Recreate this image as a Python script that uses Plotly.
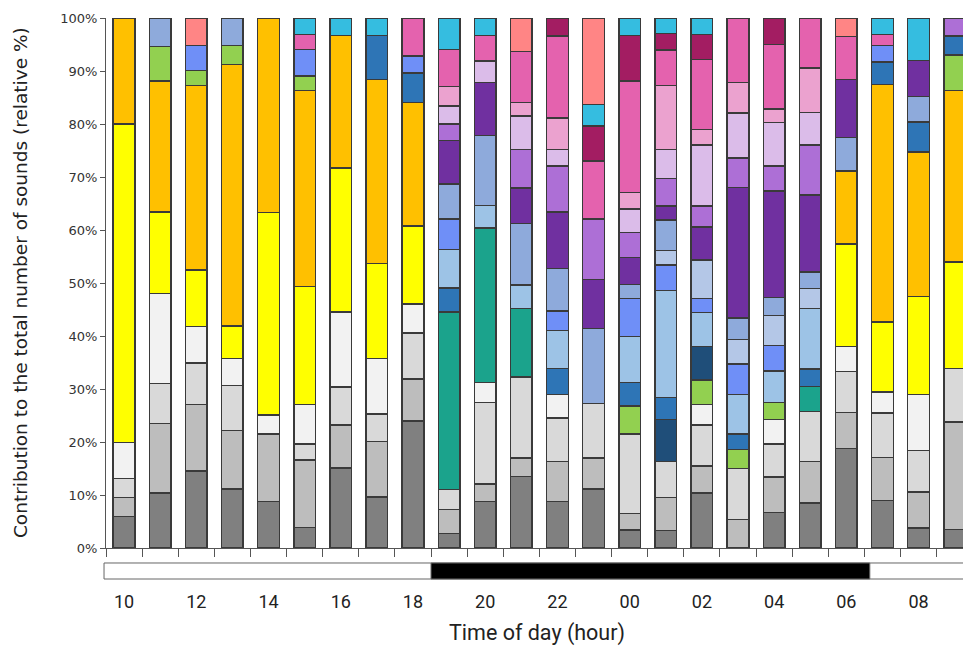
import plotly.graph_objects as go

hours = ["10", "11", "12", "13", "14", "15", "16", "17", "18", "19", "20", "21",
         "22", "23", "00", "01", "02", "03", "04", "05", "06", "07", "08", "09"]
label_hours = hours[::2]

# Sunset / sunrise positions on the hour axis (bar index units)
dark_start = 8.5
dark_end = 20.65

# Relative contribution (%) per sound category, bottom to top of each stack
dark_grey = [5.9, 10.4, 14.5, 11.1, 8.8, 3.9, 15.1, 9.6, 24.0, 2.7, 8.8, 13.5,
             8.8, 11.1, 3.4, 3.3, 10.4, 0, 6.7, 8.5, 18.8, 9.0, 3.8, 3.5]
mid_grey = [3.6, 13.1, 12.6, 11.1, 12.7, 12.7, 8.1, 10.5, 7.9, 4.6, 3.3, 3.5,
            7.5, 5.9, 3.1, 6.2, 5.1, 5.4, 6.7, 7.8, 6.8, 8.1, 6.8, 20.3]
light_grey = [3.6, 7.5, 7.8, 8.5, 0, 3.0, 7.2, 5.2, 8.7, 3.7, 15.4, 15.3,
              8.2, 10.3, 15.0, 6.8, 7.7, 9.6, 6.2, 9.5, 7.7, 8.4, 7.8, 10.1]
white = [6.8, 17.0, 6.9, 5.1, 3.6, 7.5, 14.1, 10.5, 5.4, 0, 3.7, 0,
         4.5, 0, 0, 0, 3.9, 0, 4.6, 0, 4.7, 3.9, 10.6, 0]
yellow = [60.1, 15.4, 10.7, 6.1, 38.2, 22.2, 27.2, 17.9, 14.8, 0, 0, 0,
          0, 0, 0, 0, 0, 0, 0, 0, 19.4, 13.2, 18.5, 20.1]
orange = [20.0, 24.7, 34.8, 49.3, 36.7, 37.0, 25.0, 34.7, 23.3, 0, 0, 0,
          0, 0, 0, 0, 0, 0, 0, 0, 13.7, 44.9, 27.2, 32.3]
teal = [0, 0, 0, 0, 0, 0, 0, 0, 0, 33.5, 29.2, 12.9,
        0, 0, 0, 0, 0, 0, 0, 4.7, 0, 0, 0, 0]
green = [0, 6.5, 2.8, 3.6, 0, 2.8, 0, 0, 0, 0, 0, 0,
         0, 0, 5.3, 0, 4.6, 3.6, 3.3, 0, 0, 0, 0, 6.7]
navy = [0, 0, 0, 0, 0, 0, 0, 0, 0, 0, 0, 0,
        0, 0, 0, 7.9, 6.3, 0, 0, 0, 0, 0, 0, 0]
mid_blue = [0, 0, 0, 0, 0, 0, 0, 8.3, 5.5, 4.6, 0, 0,
            4.9, 0, 4.4, 4.2, 0, 2.9, 0, 3.3, 0, 4.2, 5.7, 3.6]
light_blue = [0, 0, 0, 0, 0, 0, 0, 0, 0, 7.2, 4.2, 4.4,
              7.1, 0, 8.7, 20.2, 6.4, 7.5, 5.9, 11.4, 0, 0, 0, 0]
blue = [0, 0, 4.7, 0, 0, 5.0, 0, 0, 3.2, 5.8, 0, 0,
        3.7, 0, 7.2, 4.8, 2.7, 5.7, 4.8, 0, 0, 3.1, 0, 0]
pale_blue = [0, 0, 0, 0, 0, 0, 0, 0, 0, 0, 0, 0,
             0, 0, 0, 2.7, 7.2, 4.6, 5.7, 3.8, 0, 0, 0, 0]
steel_blue = [0, 5.4, 0, 5.2, 0, 0, 0, 0, 0, 6.6, 13.2, 11.6,
              8.0, 14.1, 2.6, 5.8, 0, 4.1, 3.4, 3.1, 6.4, 0, 4.8, 0]
dark_purple = [0, 0, 0, 0, 0, 0, 0, 0, 0, 8.2, 10.0, 6.7,
               10.7, 9.3, 5.1, 2.6, 6.3, 24.6, 20.1, 14.5, 10.9, 0, 6.8, 0]
mid_purple = [0, 0, 0, 0, 0, 0, 0, 0, 0, 3.1, 0, 7.3,
              8.7, 11.4, 4.7, 5.2, 3.9, 5.6, 4.7, 9.4, 0, 0, 0, 3.4]
lavender = [0, 0, 0, 0, 0, 0, 0, 0, 0, 3.4, 4.1, 6.3,
            3.1, 0, 4.5, 5.5, 11.5, 8.5, 8.2, 6.2, 0, 0, 0, 0]
light_pink = [0, 0, 0, 0, 0, 0, 0, 0, 0, 3.7, 0, 2.6,
              5.9, 0, 3.1, 12.1, 3.0, 5.7, 2.5, 8.4, 0, 0, 0, 0]
pink = [0, 0, 0, 0, 0, 2.8, 0, 0, 7.2, 7.0, 4.8, 9.6,
        15.5, 10.9, 21.0, 6.7, 13.2, 12.2, 12.2, 9.4, 8.1, 2.1, 0, 0]
dark_magenta = [0, 0, 0, 0, 0, 0, 0, 0, 0, 0, 0, 0,
                3.4, 6.6, 8.6, 3.1, 4.7, 0, 5.0, 0, 0, 0, 0, 0]
cyan = [0, 0, 0, 0, 0, 3.1, 3.3, 3.3, 0, 5.9, 3.3, 0,
        0, 4.1, 3.3, 2.9, 3.1, 0, 0, 0, 0, 3.1, 8.0, 0]
salmon = [0, 0, 5.2, 0, 0, 0, 0, 0, 0, 0, 0, 6.3,
          0, 16.3, 0, 0, 0, 0, 0, 0, 3.5, 0, 0, 0]

series = [
    ("dark grey", "#808080", dark_grey),
    ("mid grey", "#bdbdbd", mid_grey),
    ("light grey", "#d9d9d9", light_grey),
    ("white", "#f2f2f2", white),
    ("yellow", "#ffff00", yellow),
    ("orange", "#ffc000", orange),
    ("teal", "#1ba38c", teal),
    ("green", "#92d050", green),
    ("navy", "#1f4e79", navy),
    ("mid blue", "#2e75b6", mid_blue),
    ("light blue", "#9dc3e6", light_blue),
    ("blue", "#6f8ff7", blue),
    ("pale blue", "#b4c7e7", pale_blue),
    ("steel blue", "#8eaadb", steel_blue),
    ("dark purple", "#7030a0", dark_purple),
    ("mid purple", "#ad6fd6", mid_purple),
    ("lavender", "#dbbce9", lavender),
    ("light pink", "#eba2cf", light_pink),
    ("pink", "#e462ae", pink),
    ("dark magenta", "#a31d62", dark_magenta),
    ("cyan", "#35bde0", cyan),
    ("salmon", "#ff8585", salmon),
]

xpos = list(range(len(hours)))

fig = go.Figure()
for name, color, vals in series:
    fig.add_trace(go.Bar(
        x=xpos,
        y=[v if v else None for v in vals],
        name=name,
        width=0.6,
        marker=dict(color=color, line=dict(color="#3a3a3a", width=1.5)),
    ))

narrow = "Roboto, Liberation Sans, sans-serif"
wide = "DejaVu Sans, Verdana, sans-serif"

fig.update_layout(
    barmode="stack",
    width=963,
    height=646,
    margin=dict(l=106, r=0, t=18, b=98),
    plot_bgcolor="white",
    paper_bgcolor="white",
    showlegend=False,
)

fig.update_xaxes(
    range=[-0.5, 23.23],
    showline=True,
    linecolor="#555555",
    linewidth=1,
    showgrid=False,
    zeroline=False,
    tickvals=xpos[::2],
    ticktext=label_hours,
    ticks="",
    ticklabelstandoff=37,
    tickfont=dict(family=narrow, size=18, color="#222222"),
    minor=dict(ticks="outside", tick0=0.5, dtick=1, ticklen=8,
               tickcolor="#555555", tickwidth=1, showgrid=False),
)

fig.update_yaxes(
    range=[0, 100],
    showline=True,
    linecolor="#555555",
    linewidth=1,
    showgrid=False,
    zeroline=False,
    tickvals=list(range(0, 101, 10)),
    ticktext=[f"{v}%" for v in range(0, 101, 10)],
    ticks="outside",
    ticklen=5,
    tickcolor="#555555",
    tickfont=dict(family=wide, size=13, color="#333333"),
)

# Day / night bar under the axis
fig.add_shape(type="rect", xref="paper", yref="paper",
              x0=-0.0023, x1=1.02, y0=-0.0585, y1=-0.0283,
              fillcolor="white", line=dict(color="#666666", width=1))
fig.add_shape(type="rect", xref="x", yref="paper",
              x0=dark_start, x1=dark_end, y0=-0.0585, y1=-0.0283,
              fillcolor="black", line=dict(color="#666666", width=1))

fig.add_annotation(text="Time of day (hour)", xref="paper", yref="paper",
                   x=0.5035, y=-0.160, xanchor="center", yanchor="middle",
                   showarrow=False,
                   font=dict(family=narrow, size=21.5, color="#222222"))
fig.add_annotation(text="Contribution to the total number of sounds (relative %)",
                   xref="paper", yref="paper", x=-0.1003, y=0.5,
                   xanchor="center", yanchor="middle", textangle=-90,
                   showarrow=False,
                   font=dict(family=wide, size=18.5, color="#222222"))

fig.write_html("out.html",
               config={"displayModeBar": False},
               post_script="document.body.style.margin='0';")
